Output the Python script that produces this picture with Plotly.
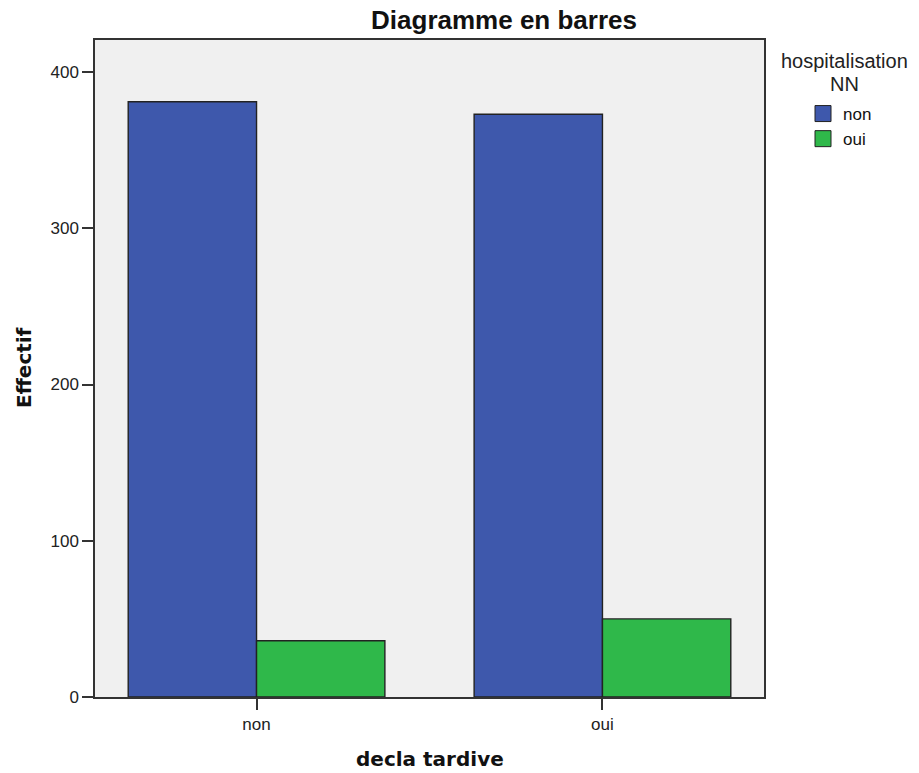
import plotly.graph_objects as go

categories = ["non", "oui"]
series_names = ["non", "oui"]
values_non = [381, 373]
values_oui = [36, 50]
y_ticks = [0, 100, 200, 300, 400]

colors = {"non": "#3e58ac", "oui": "#2fb84a"}
edge = "#222222"

fig = go.Figure()
for name, vals in zip(series_names, [values_non, values_oui]):
    fig.add_trace(go.Bar(
        x=categories, y=vals, name=name, showlegend=False,
        marker=dict(color=colors[name], line=dict(color=edge, width=1.4)),
    ))
# legend entries (square swatches)
for name in series_names:
    fig.add_trace(go.Scatter(
        x=[None], y=[None], mode="markers", name=name,
        marker=dict(symbol="square", size=16, color=colors[name],
                    line=dict(color=edge, width=1)),
    ))

W, H = 919, 773
L, R, T, B = 95, 155, 40, 76
pw = W - L - R
ph = H - T - B


def px_x(x):
    return (x - L) / pw


def px_y(y):
    return 1 - (y - T) / ph


fig.update_layout(
    width=W, height=H,
    margin=dict(l=L, r=R, t=T, b=B, pad=0, autoexpand=False),
    paper_bgcolor="white",
    plot_bgcolor="#f0f0f0",
    barmode="group",
    bargap=0.258,
    bargroupgap=0,
    font=dict(family="Liberation Sans, Arial", size=17, color="#222222"),
    title=dict(
        text="<b>Diagramme en barres</b>",
        x=px_x(504), xref="paper", xanchor="center",
        y=1 - 20 / H, yref="container", yanchor="middle",
        font=dict(family="Liberation Sans, Arial", size=26, color="#111111"),
    ),
    showlegend=True,
    legend=dict(
        x=px_x(803), xanchor="left",
        y=px_y(96), yanchor="top",
        bgcolor="rgba(0,0,0,0)",
        font=dict(size=17, color="#111111"),
        itemwidth=30,
        tracegroupgap=0,
        itemsizing="trace",
    ),
    xaxis=dict(
        type="category",
        range=[-0.467, 1.467],
        automargin=False,
        showgrid=False, zeroline=False,
        showline=True, linecolor="#333333", linewidth=1.5, mirror=True,
        ticks="outside", ticklen=11, tickcolor="#333333", tickwidth=1.5,
        tickfont=dict(size=17, color="#222222"),
    ),
    yaxis=dict(
        range=[0, 420.5],
        tickvals=y_ticks,
        automargin=False,
        showgrid=False, zeroline=False,
        showline=True, linecolor="#333333", linewidth=1.5, mirror=True,
        ticks="outside", ticklen=11, tickcolor="#333333", tickwidth=1.5,
        tickfont=dict(size=17, color="#222222"),
    ),
    annotations=[
        dict(text="hospitalisation", x=px_x(845), xref="paper",
             y=px_y(61), yref="paper",
             xanchor="center", yanchor="middle", showarrow=False,
             font=dict(family="Liberation Sans, Arial", size=20, color="#222222")),
        dict(text="NN", x=px_x(845), xref="paper",
             y=px_y(84), yref="paper",
             xanchor="center", yanchor="middle", showarrow=False,
             font=dict(family="Liberation Sans, Arial", size=20, color="#222222")),
        dict(text="<b>decla tardive</b>", x=px_x(430), xref="paper",
             y=px_y(759), yref="paper",
             xanchor="center", yanchor="middle", showarrow=False,
             font=dict(family="DejaVu Sans", size=20, color="#111111")),
        dict(text="<b>Effectif</b>", x=px_x(24), xref="paper",
             y=px_y(368), yref="paper", textangle=-90,
             xanchor="center", yanchor="middle", showarrow=False,
             font=dict(family="DejaVu Sans", size=20, color="#111111")),
    ],
)

fig.write_html("out.html", config={"displayModeBar": False},
               post_script="document.body.style.margin='0';")
